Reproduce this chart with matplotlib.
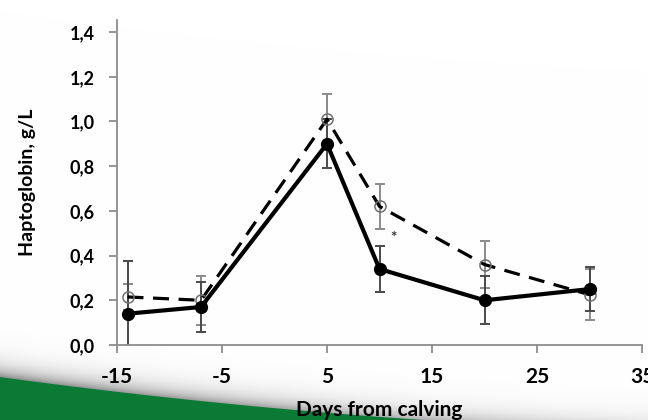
import numpy as np
import matplotlib
matplotlib.use("Agg")
import matplotlib.pyplot as plt

# Haptoglobin around calving: two groups, mean with error
days = [-14, -7, 5, 10, 20, 30]
hp_solid = [0.14, 0.17, 0.90, 0.34, 0.20, 0.25]
err_solid = [0.235, 0.11, 0.11, 0.105, 0.107, 0.10]
hp_dashed = [0.215, 0.20, 1.01, 0.62, 0.36, 0.225]
err_dashed = [0.06, 0.11, 0.115, 0.10, 0.106, 0.115]

x_ticks = [-15, -5, 5, 15, 25, 35]
y_ticks = [0.0, 0.2, 0.4, 0.6, 0.8, 1.0, 1.2, 1.4]
y_tick_labels = ["0,0", "0,2", "0,4", "0,6", "0,8", "1,0", "1,2", "1,4"]

star_pos = (11.3, 0.48)

plt.rcParams['font.family'] = ['Lato', 'DejaVu Sans']
plt.rcParams['font.weight'] = 'bold'

W, H = 648, 420
fig = plt.figure(figsize=(W / 100, H / 100), dpi=100)

# slide background: green swoosh with a soft grey shadow above it
bg = fig.add_axes([0, 0, 1, 1], zorder=0)
yy, xx = np.mgrid[0:H, 0:W].astype(float)
edge = 376.7 + 0.135 * xx - 0.00008 * xx ** 2
d = edge - yy
amp = 0.45 * (1 - 0.45 * xx / W)
grey = 1 - amp * np.exp(-np.clip(d, 0, None) / 10.0)
img = np.dstack([grey, grey, grey])
green = np.array([0.04, 0.48, 0.21])
t = np.clip(0.5 - d, 0, 1)[..., None]
img = img * (1 - t) + green * t
bg.imshow(img, extent=[0, W, H, 0], aspect='auto', interpolation='bilinear')
bg.set_xlim(0, W)
bg.set_ylim(H, 0)
bg.axis('off')

ax = fig.add_axes([117 / W, (H - 345) / H, (642 - 117) / W, (345 - 20) / H], zorder=1)
ax.patch.set_alpha(0)

ax.errorbar(days, hp_dashed, yerr=err_dashed, fmt='none', ecolor='#8a8a8a',
            elinewidth=1.4, capsize=3.5, capthick=1.4, zorder=2)
ax.errorbar(days, hp_solid, yerr=err_solid, fmt='none', ecolor='#4a4a4a',
            elinewidth=1.4, capsize=3.5, capthick=1.4, zorder=2)

ax.plot(days, hp_dashed, color='black', lw=2.3, linestyle=(0, (5, 3)), zorder=3)
ax.plot(days, hp_dashed, linestyle='none', marker='o', ms=8, mfc='none',
        mec='#707070', mew=1.1, zorder=4)
ax.plot(days, hp_solid, color='black', lw=3.0, marker='o', ms=8.5,
        mfc='black', mec='black', zorder=5)

ax.text(*star_pos, '*', ha='center', va='center', fontsize=11, color='#333333')

ax.set_xlim(-15, 35)
ax.set_ylim(0, 1.454)
ax.set_xticks(x_ticks)
ax.set_xticklabels([str(v) for v in x_ticks], fontsize=15, fontweight='bold')
ax.set_yticks(y_ticks)
ax.set_yticklabels(y_tick_labels, fontsize=13, fontweight='bold')

for side in ('top', 'right'):
    ax.spines[side].set_visible(False)
for side in ('left', 'bottom'):
    ax.spines[side].set_color('#8c8c8c')
    ax.spines[side].set_linewidth(1.3)
ax.tick_params(axis='both', color='#8c8c8c', width=1.3, length=6)
ax.tick_params(axis='x', pad=10)
ax.tick_params(axis='y', pad=10)

ax.set_xlabel('Days from calving', fontsize=15, fontweight='bold', labelpad=9)
ax.set_ylabel('Haptoglobin, g/L', fontsize=14, fontweight='bold', labelpad=24)

fig.savefig('out.png', dpi=100)
